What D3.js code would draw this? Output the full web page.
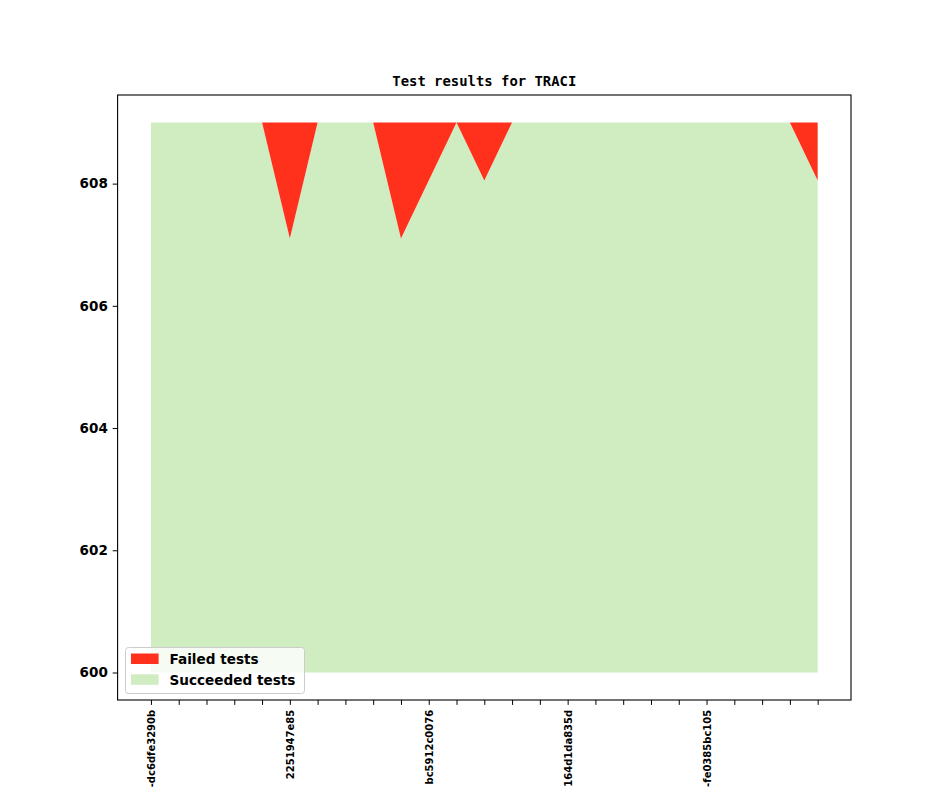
<!DOCTYPE html>
<html>
<head>
<meta charset="utf-8">
<script src="https://cdn.jsdelivr.net/npm/d3@7"></script>
<style>
  body { margin: 0; background: #fff; }
  .axis text { font-family: "DejaVu Sans", sans-serif; font-weight: bold; fill: #000; }
  .axis path, .axis line { stroke: #000; }
</style>
</head>
<body>
<div id="chart"></div>
<script>
// data
const builds = d3.range(25);
const tickIndex = [0, 5, 10, 15, 20];
const tickLabels = ["-dc6dfe3290b", "2251947e85", "bc5912c0076", "164d1da835d", "-fe0385bc105"];
const succeeded = [609, 609, 609, 609, 609, 607.1, 609, 609, 609, 607.1, 608.05, 609, 608.05,
                   609, 609, 609, 609, 609, 609, 609, 609, 609, 609, 609, 608.05];
const failed = [0, 0, 0, 0, 0, 1.9, 0, 0, 0, 1.9, 0.95, 0, 0.95,
                0, 0, 0, 0, 0, 0, 0, 0, 0, 0, 0, 0.95];
const baseline = 600;
const yTicks = [600, 602, 604, 606, 608];

const colors = { failed: "#ff311c", succeeded: "#cfedc0" };

const width = 944, height = 787;
const margin = { top: 95, right: 93, bottom: 87, left: 117.6 };

const svg = d3.select("#chart").append("svg")
    .attr("width", width)
    .attr("height", height);

const xScale = d3.scaleLinear()
    .domain([-1.2, 25.2])
    .range([margin.left, width - margin.right]);

const yScale = d3.scaleLinear()
    .domain([599.55, 609.45])
    .range([height - margin.bottom, margin.top]);

const rows = builds.map(i => ({ i, s: succeeded[i], f: failed[i] }));

const succArea = d3.area()
    .x(d => xScale(d.i))
    .y0(yScale(baseline))
    .y1(d => yScale(d.s));

const failArea = d3.area()
    .x(d => xScale(d.i))
    .y0(d => yScale(d.s))
    .y1(d => yScale(d.s + d.f));

svg.append("path")
    .datum(rows)
    .attr("d", succArea)
    .attr("fill", colors.succeeded);

svg.append("path")
    .datum(rows)
    .attr("d", failArea)
    .attr("fill", colors.failed);

// axes
const tickLen = 4.9;

const xAxis = d3.axisBottom(xScale)
    .tickValues(builds)
    .tickSize(tickLen)
    .tickPadding(4.9)
    .tickFormat(i => {
        const k = tickIndex.indexOf(i);
        return k >= 0 ? tickLabels[k] : "";
    });

svg.append("g")
    .attr("class", "axis")
    .attr("transform", `translate(0,${height - margin.bottom})`)
    .call(xAxis)
    .call(g => g.select(".domain").remove())
    .selectAll("text")
    .attr("font-size", "10px")
    .attr("transform", "rotate(-90)")
    .attr("text-anchor", "end")
    .attr("x", -(tickLen + 4.9))
    .attr("y", 0)
    .attr("dy", "0.35em");

svg.append("g")
    .attr("class", "axis")
    .attr("transform", `translate(${margin.left},0)`)
    .call(d3.axisLeft(yScale).tickValues(yTicks).tickSize(tickLen).tickPadding(4.9).tickFormat(d3.format("d")))
    .call(g => g.select(".domain").remove())
    .selectAll("text")
    .attr("font-size", "13.5px");

// frame
svg.append("rect")
    .attr("x", margin.left)
    .attr("y", margin.top)
    .attr("width", width - margin.left - margin.right)
    .attr("height", height - margin.top - margin.bottom)
    .attr("fill", "none")
    .attr("stroke", "#000")
    .attr("stroke-width", 1.1);

// title
svg.append("text")
    .attr("x", (margin.left + width - margin.right) / 2)
    .attr("y", 86)
    .attr("text-anchor", "middle")
    .style("font-family", "'DejaVu Sans Mono', monospace")
    .style("font-weight", "bold")
    .style("font-size", "13.9px")
    .text("Test results for TRACI");

// legend
const legend = svg.append("g").attr("transform", "translate(125.5,647.5)");
legend.append("rect")
    .attr("width", 179)
    .attr("height", 46)
    .attr("rx", 3)
    .attr("fill", "rgba(255,255,255,0.8)")
    .attr("stroke", "#cccccc")
    .attr("stroke-width", 1);

const legendItems = [
    { label: "Failed tests", color: colors.failed },
    { label: "Succeeded tests", color: colors.succeeded }
];

legendItems.forEach((item, k) => {
    const row = legend.append("g").attr("transform", `translate(5.5,${6 + k * 20.8})`);
    row.append("rect")
        .attr("width", 27.6)
        .attr("height", 10.5)
        .attr("fill", item.color);
    row.append("text")
        .attr("x", 38.5)
        .attr("y", 10.6)
        .style("font-family", "'DejaVu Sans', sans-serif")
        .style("font-weight", "bold")
        .style("font-size", "13.6px")
        .text(item.label);
});
</script>
</body>
</html>
